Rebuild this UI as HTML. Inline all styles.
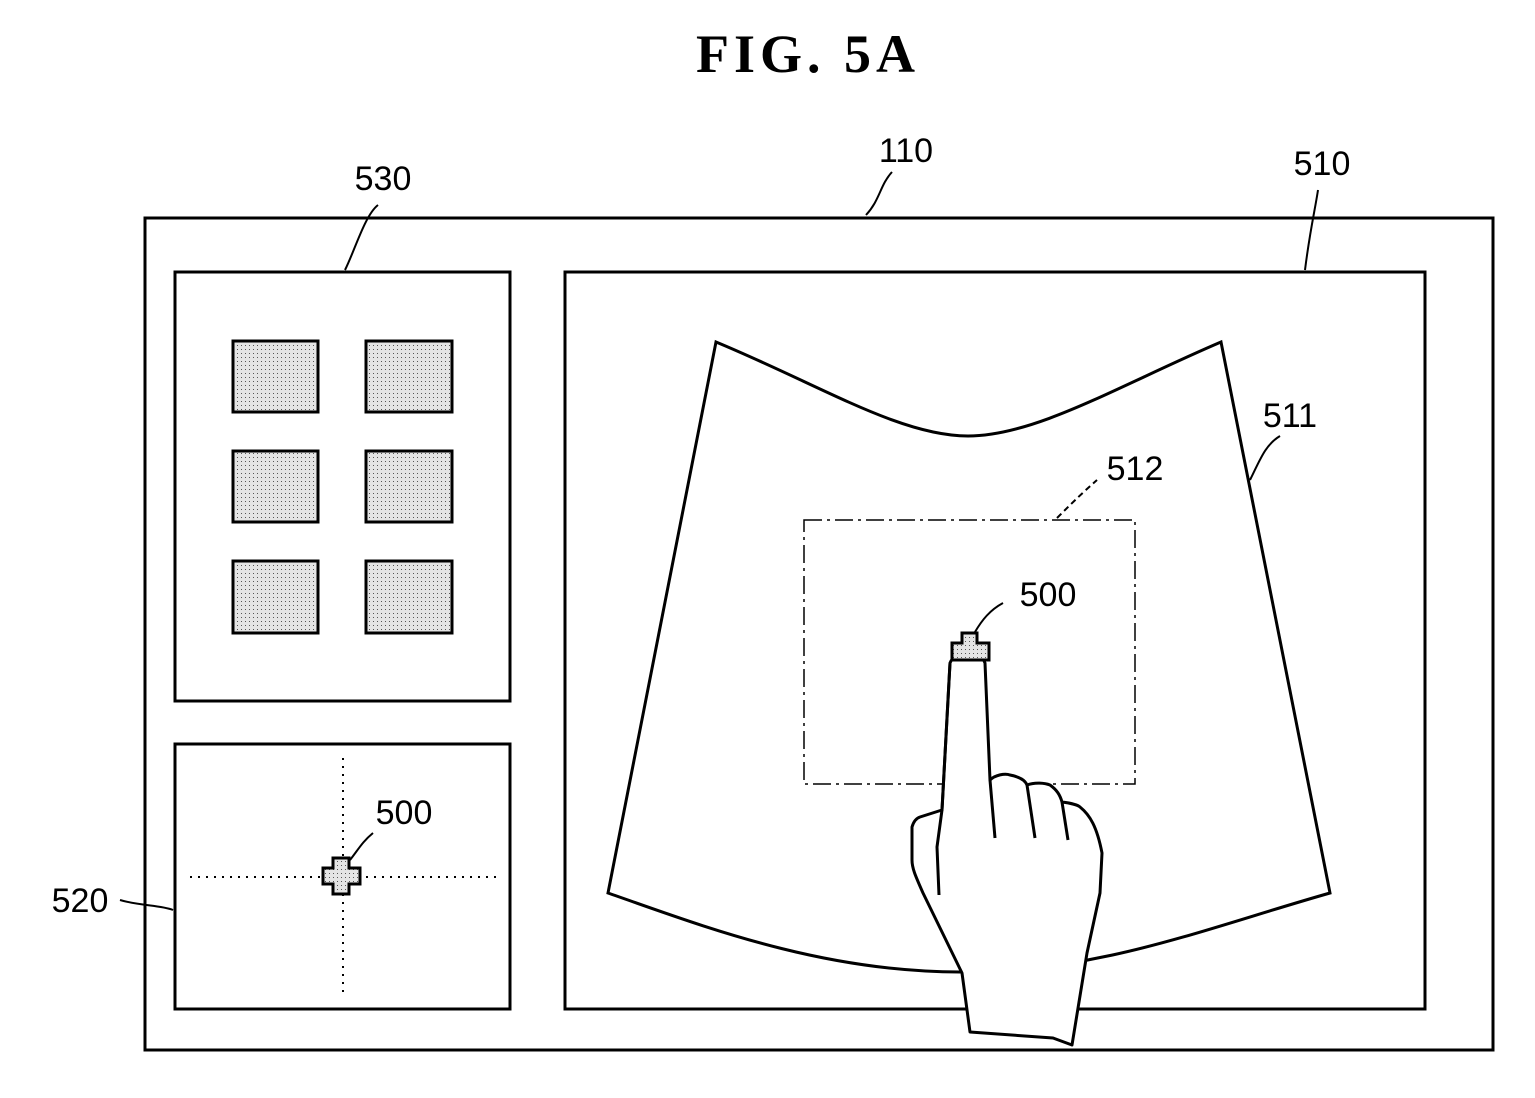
<!DOCTYPE html>
<html><head><meta charset="utf-8"><style>body{margin:0;background:#fff}svg{display:block}</style></head><body>
<svg width="1535" height="1098" viewBox="0 0 1535 1098" xmlns="http://www.w3.org/2000/svg">
<defs>
<pattern id="dots" width="4" height="4" patternUnits="userSpaceOnUse"><rect width="4" height="4" fill="#e4e4e4"/><rect x="1" y="1" width="1" height="1" fill="#555"/></pattern>
</defs>
<text x="808" y="72" font-family="Liberation Serif, serif" font-weight="bold" font-size="54" letter-spacing="5" text-anchor="middle">FIG.  5A</text>
<g fill="none" stroke="#000" stroke-width="3">
<rect x="145" y="218" width="1348" height="832"/>
<rect x="175" y="272" width="335" height="429"/>
<rect x="175" y="744" width="335" height="265"/>
<rect x="565" y="272" width="860" height="737"/>
</g>
<g fill="url(#dots)" stroke="#000" stroke-width="3">
<rect x="233" y="341" width="85" height="71"/><rect x="366" y="341" width="86" height="71"/>
<rect x="233" y="451" width="85" height="71"/><rect x="366" y="451" width="86" height="71"/>
<rect x="233" y="561" width="85" height="72"/><rect x="366" y="561" width="86" height="72"/>
</g>
<g stroke="#000" stroke-width="2" stroke-dasharray="2 6">
<line x1="343" y1="758" x2="343" y2="995"/><line x1="190" y1="877" x2="497" y2="877"/>
</g>
<path d="M333,858 h16 v10 h11 v16 h-11 v10 h-16 v-10 h-10 v-16 h10 z" fill="url(#dots)" stroke="#000" stroke-width="3"/>
<path d="M716,342 C820,385 900,436 968,436 C1036,436 1120,385 1221,342 L1330,893 C1200,930 1100,972 960,972 C820,972 700,925 608,893 Z" fill="none" stroke="#000" stroke-width="3"/>
<rect x="804" y="520" width="331" height="264" fill="none" stroke="#000" stroke-width="1.5" stroke-dasharray="18 5 3 5"/>
<path d="M950,663 C953,655 962,654 967,654 C977,654 983,657 985,663 L990,780 C995,775 1005,773 1010,775 C1020,777 1025,780 1027,785 C1035,782 1045,783 1050,785 C1057,790 1060,795 1062,802 C1070,803 1078,805 1080,807 C1090,815 1097,827 1102,853 L1100,893 L1087,953 L1072,1045 L1053,1038 L970,1032 L962,973 L923,893 C915,875 912,868 912,860 L912,827 C914,820 917,818 920,817 L942,810 Z" fill="#fff" stroke="#000" stroke-width="3" stroke-linejoin="round"/>
<g fill="none" stroke="#000" stroke-width="3">
<path d="M990,780 L995,838"/><path d="M1027,785 L1035,838"/><path d="M1062,802 L1068,840"/>
<path d="M950,663 L942,810 L937,847 L939,895"/>
</g>
<path d="M962,633 h15 v10 h12 v17 h-37 v-17 h10 z" fill="url(#dots)" stroke="#000" stroke-width="3"/>
<g fill="none" stroke="#000" stroke-width="2">
<path d="M866,215 C880,200 880,185 892,172"/>
<path d="M345,270 C355,250 365,215 378,205"/>
<path d="M1305,270 C1310,230 1315,210 1318,190"/>
<path d="M1250,480 C1260,460 1265,445 1280,436"/>
<path d="M1057,518 C1070,505 1080,495 1097,480" stroke-dasharray="6 4"/>
<path d="M975,632 C982,620 990,610 1003,603"/>
<path d="M350,860 C358,850 362,842 373,833"/>
<path d="M120,900 C140,906 160,905 173,910"/>
</g>
<g font-family="Liberation Sans, sans-serif" font-size="34" text-anchor="middle">
<text x="906" y="162">110</text>
<text x="383" y="190">530</text>
<text x="1322" y="175">510</text>
<text x="1290" y="427">511</text>
<text x="1135" y="480">512</text>
<text x="1048" y="606">500</text>
<text x="404" y="824">500</text>
<text x="80" y="912">520</text>
</g>
</svg>
</body></html>
